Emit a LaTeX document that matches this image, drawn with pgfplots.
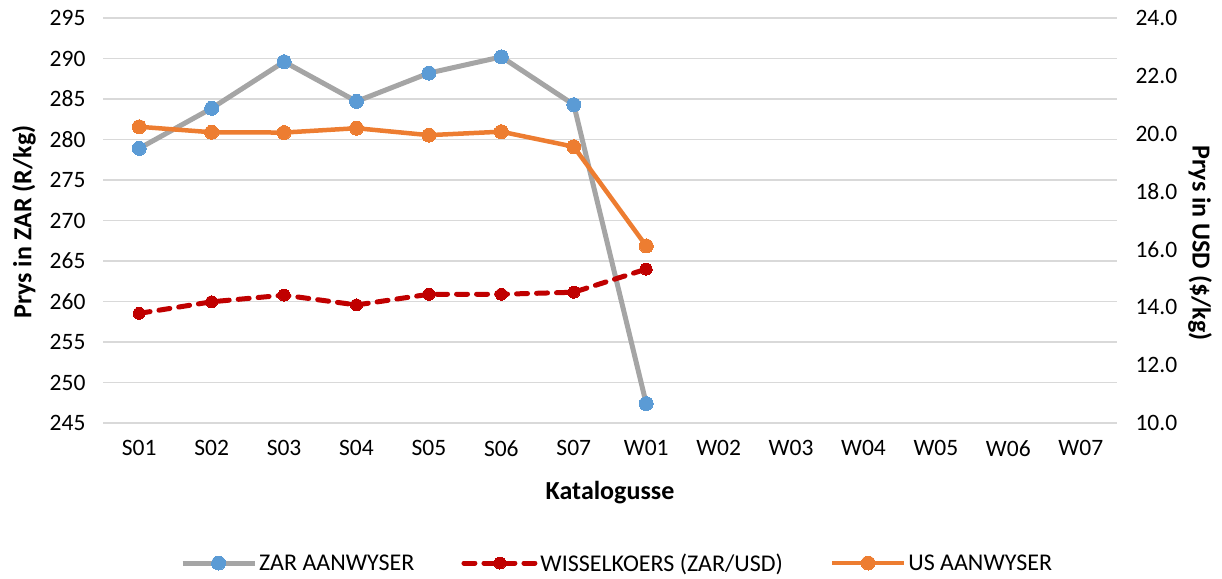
\documentclass[border=0pt]{standalone}
\usepackage{fontspec}
\setmainfont{Carlito}
\usepackage{pgfplots}
\pgfplotsset{compat=1.18}
\definecolor{zargray}{RGB}{165,165,165}
\definecolor{zarblue}{RGB}{91,155,213}
\definecolor{usorange}{RGB}{237,125,49}
\definecolor{fxred}{RGB}{192,0,0}
\definecolor{gridgray}{RGB}{217,217,217}
\begin{document}
\begin{tikzpicture}[x=1pt,y=1pt]
\useasboundingbox (0,0) rectangle (1222,578);
\pgfplotsset{
  myaxis/.style={
    at={(103pt,155pt)}, anchor=south west,
    width=1014pt, height=405pt, scale only axis,
    xmin=-0.5, xmax=13.5, xtick={0,...,13},
    xticklabels={S01,S02,S03,S04,S05,S06,S07,W01,W02,W03,W04,W05,W06,W07},
    major tick length=0pt,
    axis line style={draw=none},
    tick label style={font=\fontsize{23.5}{27}\selectfont},
    label style={font=\fontsize{26}{30}\selectfont\bfseries},
    /pgf/number format/assume math mode=true,
    clip=false,
  },
  zarstyle/.style={zargray, line width=5pt, mark=*, mark size=7pt, mark options={zarblue, fill=zarblue, line width=0pt}},
  fxstyle/.style={fxred, line width=5pt, dash pattern=on 11pt off 9pt, line cap=round, mark=*, mark size=6pt, mark options={solid, fxred, fill=fxred, line width=0pt}},
  usstyle/.style={usorange, line width=4.5pt, mark=*, mark size=7pt, mark options={usorange, fill=usorange, line width=0pt}},
}
\begin{axis}[myaxis,
  ymin=245, ymax=295, ytick={245,250,...,295},
  ymajorgrids, grid style={gridgray, line width=1.5pt},
  yticklabel style={xshift=-14pt},
  xticklabel style={yshift=-14pt},
  xlabel={Katalogusse},
  xlabel style={at={(axis description cs:0.5,-0.173)}, anchor=center},
  ylabel={Prys in ZAR (R/kg)},
  ylabel style={at={(axis description cs:-0.078,0.496)}, anchor=center},
]
\addplot[zarstyle] coordinates {
(0,278.9) (1,283.85) (2,289.6) (3,284.7) (4,288.2) (5,290.2) (6,284.3) (7,247.4)
};
\end{axis}
\begin{axis}[myaxis,
  axis y line*=right, axis x line=none,
  ymin=10, ymax=24, ytick={10,12,...,24},
  yticklabel style={xshift=15pt, /pgf/number format/.cd, fixed, fixed zerofill, precision=1},
  ylabel={Prys in USD (\$/kg)},
  ylabel style={at={(axis description cs:1.082,0.444)}, anchor=center, rotate=180},
  legend style={at={(0.507,-0.3457)}, anchor=center, legend columns=3, draw=none,
    font=\fontsize{24}{28}\selectfont, nodes={inner sep=2pt},
    /tikz/every even column/.append style={column sep=45pt}},
  legend image code/.code={\draw[mark repeat=2, mark phase=2, #1] plot coordinates {(0pt,0pt) (36pt,0pt) (72pt,0pt)};},
]
\addlegendimage{zarstyle}
\addlegendentry{ZAR AANWYSER}
\addplot[fxstyle] coordinates {
(0,13.79) (1,14.19) (2,14.42) (3,14.08) (4,14.45) (5,14.45) (6,14.52) (7,15.32)
};
\addlegendentry{WISSELKOERS (ZAR/USD)}
\addplot[usstyle] coordinates {
(0,20.24) (1,20.05) (2,20.04) (3,20.19) (4,19.95) (5,20.07) (6,19.55) (7,16.12)
};
\addlegendentry{US AANWYSER}
\end{axis}
\end{tikzpicture}
\end{document}
